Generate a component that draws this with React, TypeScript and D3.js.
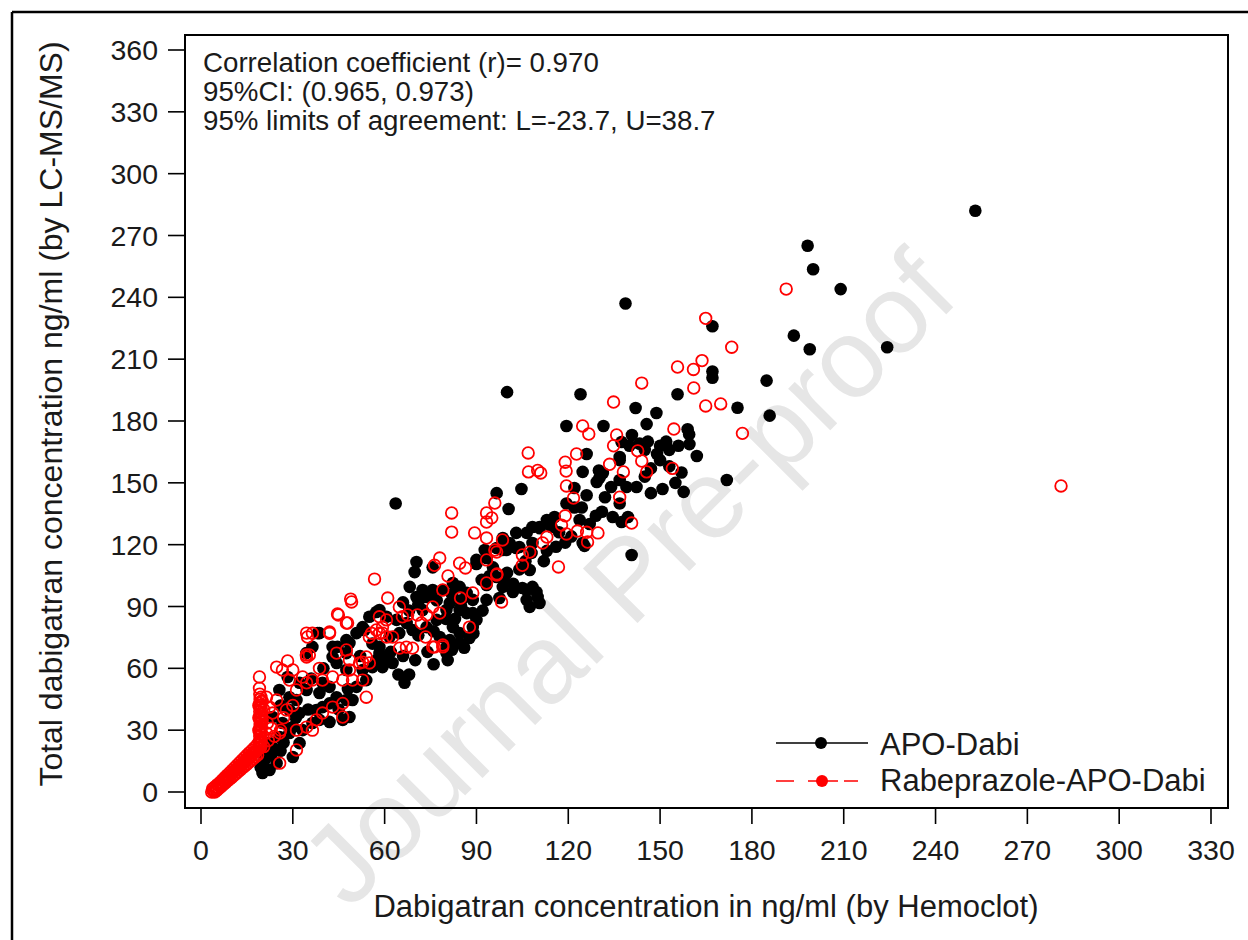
import React from "react";
import * as d3 from "d3";

const xTicks = [0, 30, 60, 90, 120, 150, 180, 210, 240, 270, 300, 330];
const yTicks = [0, 30, 60, 90, 120, 150, 180, 210, 240, 270, 300, 330, 360];

const annotationLines = [
  "Correlation coefficient (r)= 0.970",
  "95%CI: (0.965, 0.973)",
  "95% limits of agreement: L=-23.7, U=38.7",
];

const seriesNames = ["APO-Dabi", "Rabeprazole-APO-Dabi"];
const xTitle = "Dabigatran concentration in ng/ml (by Hemoclot)";
const yTitle = "Total dabigatran concentration ng/ml (by LC-MS/MS)";
const watermark = "Journal Pre-proof";

// APO-Dabi (black filled dots): [Hemoclot, LC-MS/MS]
const apoDabi: [number, number][] = [
  [253,282],[198.2,265],[200,253.6],[209,244],[193.7,221.4],[198.9,214.8],[224.2,215.8],[167.1,226],[167.1,204],[167.1,201],
  [184.8,199.6],[185.8,182.6],[175.3,186.4],[171.8,151.4],[138.7,237],[100,194],[124,193],[155.7,193],[142,186.3],[148.8,183.9],
  [145.6,178.5],[119.4,177.6],[131.5,177.6],[159,176],[159.5,173.5],[140.8,173.2],[159.6,168.8],[146,170],[150,168],[153,166],
  [149,164],[145,166],[140,168],[137.4,169.8],[143.3,169],[126,164],[124.7,155.3],[136.8,161],[136.8,162.5],[130,156],[157,155],
  [150,161],[153,158],[147,157],[131.3,154.8],[129.3,150.4],[130.2,152.4],[136.8,151.4],[139,148],[142.3,148],[150.8,147],
  [157.7,145.6],[122,147.5],[104.7,147],[96.6,145],[100.5,137.3],[136.8,140],[134.5,133.4],[137.4,131],[139.5,133.4],[140.7,115],
  [119.4,140],[122,138],[124.4,138],[123.7,132],[115.5,133.4],[113,132],[110.6,128.6],[114.5,128.6],[124.7,120.8],[125.3,119.4],
  [117,126],[108.3,128.6],[106.4,125.7],[103,125.7],[100.8,120.8],[104,118.9],[108,116],[107.4,107.7],[98.5,117.4],[95.4,109],
  [100,106.3],[63.6,140],[110.7,128],[98.6,123.2],[92.7,117.4],[96.6,118.4],[99.8,117.4],[103,118.4],[108.3,120.8],[90,112.6],
  [93.3,113.5],[90,110.6],[94.3,104.8],[75.7,109],[70.4,111.6],[69.8,106.7],[68.2,99.5],[70.4,94.6],[73.7,94.6],[75.7,98],
  [72.4,98],[79,98],[82.3,101.4],[84.5,99.5],[86.8,96.6],[88.8,93.2],[91.7,102.9],[93.3,100.4],[96.6,104.3],[98.6,99.5],
  [101.9,97],[105,99],[108.3,99.5],[110,94.6],[110.6,91.7],[106.4,93.2],[107.4,89.8],[106.4,98],[109.6,97],[93.3,93.2],
  [97.5,94.1],[81.3,91.7],[80.2,88.3],[84.5,88.3],[86.8,86.8],[88.8,86.8],[90,83.5],[88.8,80],[82.3,80],[84.5,77.1],
  [81.3,73.7],[84.5,72.3],[87.7,74.7],[78,75.2],[80.2,67.4],[80.6,64],[80.2,70.4],[77,83.5],[73.7,80],[72.4,88.3],
  [67.2,82],[69.1,78.6],[64.8,77.1],[61.6,75.2],[58.3,70.4],[57.3,87.3],[60.6,85],[63.9,83.5],[55,85],[58.3,88.3],
  [52.8,80],[50.8,77.1],[47.5,73.7],[44.6,70.4],[53.4,78.6],[48.5,72.3],[43,70.4],[38.7,77.1],[36.4,70.4],[34.4,67.4],
  [38.1,77.1],[47.5,67.4],[43,65.5],[44.3,62.6],[47.5,59.2],[50.8,51],[49.5,44.6],[48.5,36.4],[46.3,35],[57.3,64],
  [59.3,60.6],[58.3,67.4],[60.6,64],[62.6,62.6],[56,60.6],[52.8,59.2],[54,54.3],[64.5,57],[68,57],[66.5,53],
  [28.3,55.8],[25.6,49.5],[28.9,46],[31.2,44.6],[32.2,38.3],[28.9,39.8],[23.4,36.4],[26.6,33.5],[30,31.5],[33.2,30],
  [36.4,33.5],[38.7,35],[22.4,23.7],[25.7,26.7],[28.9,28.6],[20.1,14],[22.4,10.7],[20.1,9.2],[24.7,14],[32.2,23.7],
  [30,17],[37.7,39.8],[39.7,41.2],[42,43],[44.3,46],[47.5,44.6],[39.7,53],[42,51],[38.7,48],[32.2,53],
  [34.5,49.5],[21,11],[19.5,12],[22.4,20],[23,18],[26,20],[62,68],[66,66],[70,64],[74,68],
  [76,62],[56,72],[52,66],[40,60],[36,55],[42,34],[45,40],[48,50],[85,90],[112,112],
  [66,92],[68,88],[71,91],[77,93],[82,96],[85,93],[80,84],[83,84],[76,78],[71,76],
  [82,69],[86,70],[89,77],[92,88],[99,103],[102,101],[104,108],[106,112],[113,117],[116,119],
  [119,121],[121,124],[127,130],[129,134],[131,136],[126,144],[132,143],[134,148],[145,153],[155,150],
  [152,170],[156,168],[162,163],[147,145],[27,24],[24,21],[21,16],[26,42],[31,36],[35,40],
];

// Rabeprazole-APO-Dabi (red open circles)
const rabeApoDabi: [number, number][] = [
  [191.2,244],[164.9,229.8],[173.4,215.8],[163.7,209.3],[155.7,206.2],[160.9,205],[144,198.4],[161,196],[134.8,189.2],[164.9,187.3],
  [169.8,188.3],[124.7,177.6],[126.7,173.7],[135.8,173.2],[154.5,176.1],[176.9,174],[134.8,168],[142.7,165.5],[144,160.6],[122.7,164],
  [119,160],[119.3,155.7],[133.5,159],[138,155.3],[145.6,155.3],[154,157],[106.9,164.5],[107,155.3],[110,156],[111,154.8],
  [119.4,148.5],[96,140.2],[93.3,135.4],[95,133],[93.3,131],[136.8,143],[140.7,130.5],[121.7,142.6],[119,134],[117.8,129.5],
  [119.4,125.2],[123,126.6],[126,126],[129.7,125.7],[126.3,121.3],[113,123.7],[111.6,120.8],[107.4,116.4],[105,115],[105,110],
  [116.8,109.2],[98.5,122.3],[96,117.4],[93.3,112.6],[96.7,105.8],[81.9,135.4],[81.9,126.1],[89.4,125.7],[93.3,123.2],[96.6,116.4],
  [78,113.5],[76.3,110],[84.5,111],[86.4,108.7],[56.7,103.3],[48.9,93.6],[79,98],[80.7,104.8],[84.8,94.1],[88.8,96.6],
  [93.3,101.4],[96.6,105.3],[98.2,92.2],[73.7,85.9],[75.7,89.8],[78,86.8],[87.7,80],[73.4,75.2],[76.3,70.4],[79,70.4],
  [70.7,85.9],[72,82],[64.8,89.8],[65.8,85],[67.5,85.9],[61,94.1],[58.3,85],[60.6,83.5],[59.3,80],[44.9,85.9],
  [47.9,82],[42,77],[36.4,77],[34.8,75.2],[35.4,66.5],[34.4,66.5],[54,65.5],[51.8,62.6],[48.5,59.2],[55,62.6],
  [281,148.5],[55.7,77],[58.3,77],[60.6,75.2],[62.6,75.2],[64.9,69.8],[67.1,70.3],[69.1,69.8],[75.7,70.3],[79,71.3],
  [19.1,55.8],[19.1,50.4],[28.3,63.6],[34.5,77.1],[42,77.6],[44.6,86.4],[47.5,82],[49.2,92.2],[34.5,65.5],[38.7,60],
  [33.2,55.8],[34.5,53],[36.4,54.3],[28.9,54.3],[31.2,49.5],[39.7,54.3],[43,55.8],[46.3,54.3],[49.5,54.3],[52.8,54.3],
  [44.3,67.4],[47.5,68.9],[48.5,64],[52.8,63],[54,46],[46.3,43],[43,41.2],[46.3,36.4],[39.7,38.3],[37.7,35],
  [34.5,31.5],[36.4,30],[27.9,39.8],[24.7,44.6],[23.4,38.3],[25.7,28.6],[31.2,30],[31.2,20.4],[25.7,14],[21.4,46],
  [22.4,41.2],[21.7,33.5],[21.4,28.6],[24.7,60.6],[26.6,59.2],[30,59.2],[57.3,78.6],[59.3,77.1],[55,75.2],
  [20.5,22],[22,25],[24,27],[26,30],[23,31],[20,35],[20.5,40],[20,44],[27,36],[30,42],
  // column at the Hemoclot lower limit
  [19.2,21.5],[19.2,23],[19.3,25],[19.2,27],[19.3,29],[19.2,31],[19.3,33],[19.2,35],[19.3,37],[19.2,39],
  [19.3,41],[19.2,43],[19.3,45],[19.2,47.5],[19.6,22],[19.7,24],[19.6,26],[19.7,28],[19.6,30],[19.7,32],
  [19.6,34],[19.7,36],[19.6,38],[19.7,40],[19.6,42],[19.7,44],[19.6,46],[18.9,24],[18.9,30],[18.9,36],[18.9,42],
  // diagonal at the low end
  [3.5,0],[4,0.5],[4.2,1],[4.8,1.5],[5.3,2.2],[5.9,3],[6.4,3.8],[7,4.6],[7.6,5.5],[8.1,6.2],
  [8.7,7],[9.3,7.9],[9.9,8.7],[10.5,9.6],[11.1,10.4],[11.7,11.2],[12.3,12],[12.9,12.9],[13.6,13.8],[14.2,14.6],
  [14.8,15.5],[15.4,16.3],[16,17.2],[16.6,18],[17.2,18.9],[17.8,19.7],[18.4,20.5],[19,21.3],
  [4.5,0],[5.2,0.9],[5.9,1.8],[6.6,2.7],[7.3,3.6],[8,4.5],[8.7,5.4],[9.4,6.3],[10.1,7.2],[10.8,8.1],
  [11.5,9],[12.2,9.9],[12.9,10.8],[13.6,11.7],[14.3,12.6],[15,13.5],[15.7,14.4],[16.4,15.3],[17.1,16.2],[17.8,17.1],[18.5,18],
  [3.8,1.6],[4.6,2.6],[5.4,3.6],[6.2,4.6],[7,5.8],[7.8,7],[8.6,8.2],[9.4,9.4],[10.2,10.6],[11,11.8],
  [11.8,13],[12.6,14.2],[13.4,15.4],[14.2,16.6],[15,17.8],[15.8,19],[16.6,20.2],[17.4,21.4],[18.2,22.6],
];

const FONT = "'Liberation Sans', Arial, Helvetica, sans-serif";

export default function App() {
  const W = 1248, H = 940;
  const box = { left: 185, top: 35, right: 1228, bottom: 808 };
  const x = d3.scaleLinear().domain([0, 330]).range([201, 1211]);
  const y = d3.scaleLinear().domain([0, 360]).range([792, 50]);
  const red = "#ff0000";

  return (
    <svg width={W} height={H} style={{ position: "absolute", left: 0, top: 0, background: "#fff" }}
      fontFamily={FONT}>
      <rect x={0} y={0} width={W} height={H} fill="#fff" />
      {/* outer frame (left + top) */}
      <line x1={12} y1={12} x2={W} y2={12} stroke="#000" strokeWidth={2.5} />
      <line x1={12} y1={12} x2={12} y2={H} stroke="#000" strokeWidth={2.5} />

      {/* watermark */}
      <text x={628} y={578} transform="rotate(-45 628 578)" textAnchor="middle"
        dominantBaseline="central" fontSize={112} fill="#e6e6e6">{watermark}</text>

      {/* points */}
      <g>
        {apoDabi.map((d, i) => (
          <circle key={"a" + i} cx={x(d[0])} cy={y(d[1])} r={6.3} fill="#000" />
        ))}
      </g>
      <g>
        {rabeApoDabi.map((d, i) => (
          <circle key={"r" + i} cx={x(d[0])} cy={y(d[1])} r={5.8} fill="none" stroke={red} strokeWidth={1.8} />
        ))}
      </g>

      {/* plot box */}
      <rect x={box.left} y={box.top} width={box.right - box.left} height={box.bottom - box.top}
        fill="none" stroke="#000" strokeWidth={2} />

      {/* y axis ticks */}
      {yTicks.map((t) => (
        <g key={"y" + t}>
          <line x1={168} x2={box.left} y1={y(t)} y2={y(t)} stroke="#000" strokeWidth={1.6} />
          <text x={158} y={y(t) + 10} textAnchor="end" fontSize={28.5} fill="#1a1a1a">{t}</text>
        </g>
      ))}
      {/* x axis ticks */}
      {xTicks.map((t) => (
        <g key={"x" + t}>
          <line x1={x(t)} x2={x(t)} y1={box.bottom} y2={824} stroke="#000" strokeWidth={1.6} />
          <text x={x(t)} y={860} textAnchor="middle" fontSize={28.5} fill="#1a1a1a">{t}</text>
        </g>
      ))}

      {/* axis titles */}
      <text x={706} y={917} textAnchor="middle" fontSize={31} fill="#1a1a1a">{xTitle}</text>
      <text x={0} y={0} transform="translate(62 414) rotate(-90)" textAnchor="middle" fontSize={32} fill="#1a1a1a">{yTitle}</text>

      {/* annotation */}
      {annotationLines.map((s, i) => (
        <text key={"an" + i} x={203} y={72 + i * 29} fontSize={27.7} fill="#1a1a1a">{s}</text>
      ))}

      {/* legend */}
      <line x1={776} x2={868} y1={743} y2={743} stroke="#000" strokeWidth={1.6} />
      <circle cx={821} cy={743} r={6} fill="#000" />
      <text x={880} y={755} fontSize={31} fill="#1a1a1a">{seriesNames[0]}</text>
      <line x1={776} x2={858} y1={781} y2={781} stroke={red} strokeWidth={1.6} strokeDasharray="18 14 30 6 14" />
      <circle cx={822} cy={781} r={6} fill={red} />
      <text x={880} y={791} fontSize={31} fill="#1a1a1a">{seriesNames[1]}</text>
    </svg>
  );
}
